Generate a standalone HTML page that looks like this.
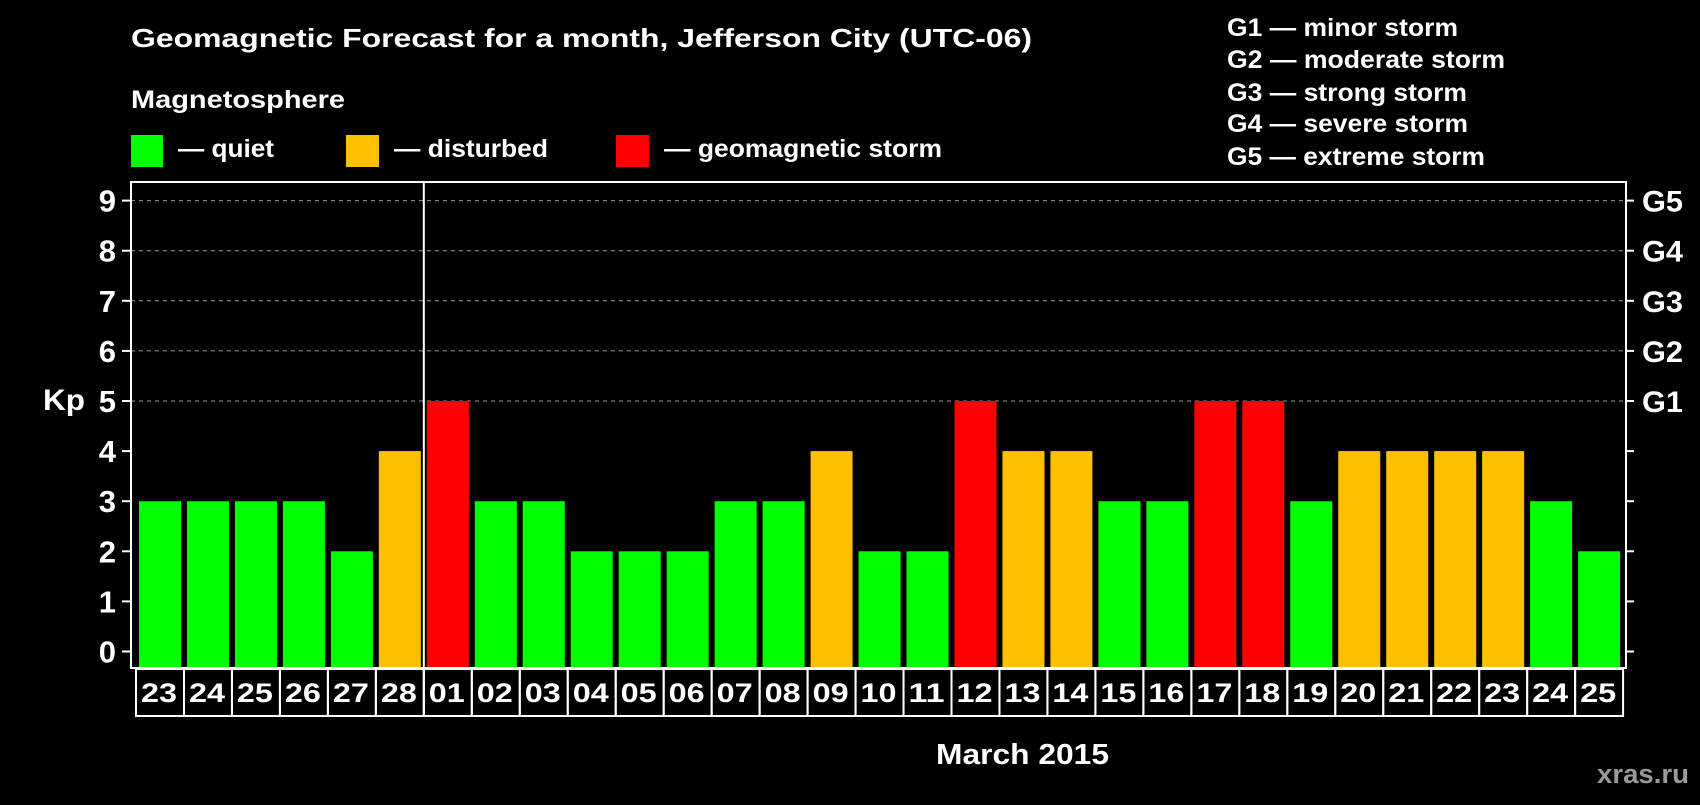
<!DOCTYPE html>
<html><head><meta charset="utf-8"><style>
body{margin:0;background:#000;width:1700px;height:800px;overflow:hidden;font-family:"Liberation Sans",Arial,sans-serif}
svg text{font-family:"Liberation Sans",Arial,sans-serif;font-weight:bold;fill:#fff}
</style></head><body>
<svg id="chart" width="1700" height="800" viewBox="0 0 1700 800">
<text x="131" y="47" font-size="26" textLength="901" lengthAdjust="spacingAndGlyphs">Geomagnetic Forecast for a month, Jefferson City (UTC-06)</text>
<text x="131" y="108" font-size="25" textLength="214" lengthAdjust="spacingAndGlyphs">Magnetosphere</text>
<rect x="131" y="135" width="32" height="32" fill="#00ff00"/>
<text x="178" y="157" font-size="25" textLength="96" lengthAdjust="spacingAndGlyphs">— quiet</text>
<rect x="346" y="135" width="33" height="32" fill="#ffc000"/>
<text x="394" y="157" font-size="25" textLength="154" lengthAdjust="spacingAndGlyphs">— disturbed</text>
<rect x="616" y="135" width="33" height="32" fill="#ff0000"/>
<text x="664" y="157" font-size="25" textLength="278" lengthAdjust="spacingAndGlyphs">— geomagnetic storm</text>
<g font-size="25">
<text x="1227" y="36" textLength="231" lengthAdjust="spacingAndGlyphs">G1 — minor storm</text>
<text x="1227" y="68" textLength="278" lengthAdjust="spacingAndGlyphs">G2 — moderate storm</text>
<text x="1227" y="101" textLength="240" lengthAdjust="spacingAndGlyphs">G3 — strong storm</text>
<text x="1227" y="132" textLength="241" lengthAdjust="spacingAndGlyphs">G4 — severe storm</text>
<text x="1227" y="165" textLength="258" lengthAdjust="spacingAndGlyphs">G5 — extreme storm</text>
</g>
<text x="43" y="410" font-size="30" textLength="42" lengthAdjust="spacingAndGlyphs">Kp</text>
<text x="936" y="764" font-size="29" textLength="173" lengthAdjust="spacingAndGlyphs">March 2015</text>
<text x="1597" y="783" font-size="27" textLength="92" lengthAdjust="spacingAndGlyphs" style="fill:#9a9a9a">xras.ru</text>
<g id="grid"></g><g id="bars"></g><g id="labels"></g>
<rect x="131" y="182" width="1495" height="486" fill="none" stroke="#fff" stroke-width="2"/>
</svg>
<script>
const days=["23","24","25","26","27","28","01","02","03","04","05","06","07","08","09","10","11","12","13","14","15","16","17","18","19","20","21","22","23","24","25"];
const kp=[3,3,3,3,2,4,5,3,3,2,2,2,3,3,4,2,2,5,4,4,3,3,5,5,3,4,4,4,4,3,2];
const yTicks=[0,1,2,3,4,5,6,7,8,9];
const gLabels=["G1","G2","G3","G4","G5"];
const NS="http://www.w3.org/2000/svg";
const y=v=>651.5-v*50.1;
const x=i=>139+47.97*i;
const BASE=668;
function mk(t,a,p){const e=document.createElementNS(NS,t);for(const k in a)e.setAttribute(k,a[k]);p.appendChild(e);return e;}
const grid=document.getElementById('grid'),bars=document.getElementById('bars'),labels=document.getElementById('labels');
yTicks.forEach(v=>{
 const t=mk('text',{x:116,y:y(v)+11,'font-size':31,'text-anchor':'end'},grid);t.textContent=v;
 
 
 mk('line',{x1:122,x2:131,y1:y(v),y2:y(v),stroke:'#fff','stroke-width':2},grid);
 mk('line',{x1:1626,x2:1634,y1:y(v),y2:y(v),stroke:'#fff','stroke-width':2},grid);
 if(v>=5){mk('line',{x1:131,x2:1626,y1:y(v),y2:y(v),stroke:'#999','stroke-width':1,'stroke-dasharray':'4,4'},grid);
  const g=mk('text',{x:1642,y:y(v)+11,'font-size':30,textLength:41,lengthAdjust:'spacingAndGlyphs'},grid);g.textContent=gLabels[v-5];
  
  }
});
kp.forEach((v,i)=>{
 const c=v>=5?'#ff0000':v>=4?'#ffc000':'#00ff00';
 const r=mk('rect',{x:x(i),y:y(v),width:42,height:BASE-y(v),fill:c},bars);
 
 
 const cell=mk('rect',{x:x(i)-3,y:669,width:48,height:47,fill:'none',stroke:'#fff','stroke-width':2},labels);
 
 
 const t=mk('text',{x:x(i)+2,y:702,'font-size':27,textLength:36,lengthAdjust:'spacingAndGlyphs'},labels);t.textContent=days[i];
 
 
});
const mi=days.indexOf("01");
const sep=mk('line',{x1:x(mi)-3,x2:x(mi)-3,y1:182,y2:716,stroke:'#fff','stroke-width':2},labels);


</script>
</body></html>
